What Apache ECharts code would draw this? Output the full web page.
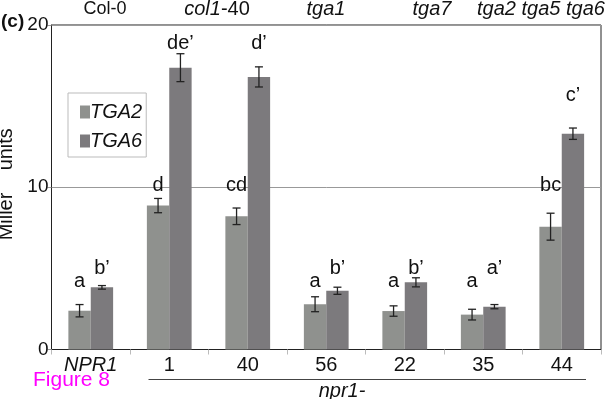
<!DOCTYPE html>
<html>
<head>
<meta charset="utf-8">
<script src="https://cdn.jsdelivr.net/npm/echarts@6/dist/echarts.min.js"></script>
<style>
  html, body { margin: 0; padding: 0; background: #fff; }
  #main { width: 605px; height: 399px; }
</style>
</head>
<body>
<div id="main"></div>
<script>
// categories along the x axis (NPR1 wild type, then npr1- alleles)
var categories = ['NPR1', '1', '40', '56', '22', '35', '44'];

// Miller units
var tga2 = [2.39, 8.87, 8.21, 2.79, 2.37, 2.15, 7.57];
var tga6 = [3.83, 17.37, 16.8, 3.62, 4.14, 2.64, 13.3];
var tga2Err = [0.38, 0.44, 0.51, 0.46, 0.32, 0.33, 0.83];
var tga6Err = [0.11, 0.86, 0.62, 0.22, 0.28, 0.13, 0.35];

// significance letters and the height (Miller units) where each sits
var tga2Letters = ['a', 'd', 'cd', 'a', 'a', 'a', 'bc'];
var tga6Letters = ['b’', 'de’', 'd’', 'b’', 'b’', 'a’', 'c’'];
var tga2LetterAt = [3.73, 9.65, 9.65, 3.73, 3.73, 3.73, 9.65];
var tga6LetterAt = [4.59, 18.46, 18.46, 4.59, 4.59, 4.59, 15.2];

var yTicks = [0, 10, 20];

var FONT = '"Liberation Sans", Arial, Helvetica, sans-serif';
var BAR_W = 0.285;

var chart = echarts.init(document.getElementById('main'), null, { renderer: 'canvas' });

// error bar + letter for one bar series, side = -1 (left bar) or 1 (right bar)
function errorRenderer(vals, errs, letters, letterAt, side) {
  return function (params, api) {
    var i = params.dataIndex;
    var catW = api.size([1, 0])[0];
    var bw = catW * BAR_W;
    var x = api.coord([i, vals[i]])[0] + side * bw / 2;
    var hi = api.coord([i, vals[i] + errs[i]])[1];
    var lo = api.coord([i, vals[i] - errs[i]])[1];
    var ly = api.coord([i, letterAt[i]])[1];
    var ls = { stroke: '#222', lineWidth: 1.3 };
    return {
      type: 'group',
      children: [
        { type: 'line', shape: { x1: x, y1: hi, x2: x, y2: lo }, style: ls },
        { type: 'line', shape: { x1: x - 4, y1: hi, x2: x + 4, y2: hi }, style: ls },
        { type: 'line', shape: { x1: x - 4, y1: lo, x2: x + 4, y2: lo }, style: ls },
        {
          type: 'text',
          x: x, y: ly - 7,
          style: {
            text: letters[i], fill: '#111', font: '20px ' + FONT,
            textAlign: 'center', textVerticalAlign: 'middle'
          }
        }
      ]
    };
  };
}

var option = {
  backgroundColor: '#fff',
  animation: false,
  textStyle: { fontFamily: FONT },
  grid: {
    left: 51.5, right: 4, top: 25, bottom: 49.5,
    show: true, borderColor: '#222', borderWidth: 1,
    outerBoundsMode: 'none'
  },
  legend: {
    data: ['TGA2', 'TGA6'],
    orient: 'vertical',
    left: 68, top: 93,
    padding: [9, 4, 6, 12],
    borderColor: '#bbb', borderWidth: 1,
    itemWidth: 10, itemHeight: 13, itemGap: 9,
    icon: 'rect',
    textStyle: { fontFamily: FONT, fontSize: 20, fontStyle: 'italic', color: '#111', lineHeight: 20, padding: [0, 0, 0, -5] }
  },
  xAxis: {
    type: 'category',
    data: categories,
    axisLine: { lineStyle: { color: '#222', width: 1 } },
    axisTick: { show: true, length: 5, lineStyle: { color: '#bbb' } },
    axisLabel: {
      interval: 0,
      margin: 6, fontSize: 20, color: '#111', fontFamily: FONT,
      formatter: function (v) { return v === 'NPR1' ? '{i|NPR1}' : v; },
      rich: { i: { fontStyle: 'italic', fontSize: 20, color: '#111', fontFamily: FONT } }
    }
  },
  yAxis: {
    type: 'value',
    min: yTicks[0], max: yTicks[yTicks.length - 1], interval: 10,
    name: 'Miller    units',
    nameLocation: 'middle', nameRotate: 90, nameGap: 32,
    nameTextStyle: { fontSize: 20, color: '#111', fontFamily: FONT, padding: [0, 0, 0, 6] },
    axisLine: { show: true, lineStyle: { color: '#222', width: 1 } },
    axisTick: { show: true, length: 4, lineStyle: { color: '#999' } },
    axisLabel: { margin: 3, fontSize: 19, color: '#111', fontFamily: FONT },
    splitLine: { show: true, lineStyle: { color: '#999', width: 1 } }
  },
  series: [
    {
      name: 'TGA2', type: 'bar', data: tga2,
      barWidth: (BAR_W * 100) + '%', barGap: '0%',
      itemStyle: { color: '#8f918e' }
    },
    {
      name: 'TGA6', type: 'bar', data: tga6,
      barWidth: (BAR_W * 100) + '%', barGap: '0%',
      itemStyle: { color: '#7c7a7d' }
    },
    {
      type: 'custom', z: 10,
      data: tga2.map(function (v, i) { return [i, v]; }),
      encode: { x: 0, y: 1 },
      renderItem: errorRenderer(tga2, tga2Err, tga2Letters, tga2LetterAt, -1)
    },
    {
      type: 'custom', z: 10,
      data: tga6.map(function (v, i) { return [i, v]; }),
      encode: { x: 0, y: 1 },
      renderItem: errorRenderer(tga6, tga6Err, tga6Letters, tga6LetterAt, 1)
    }
  ],
  graphic: [
    { type: 'text', left: 1, top: 12, style: { text: '(c)', font: 'bold 19px ' + FONT, fill: '#111' } },
    { type: 'text', x: 105, y: 9, style: { text: 'Col-0', font: '18px ' + FONT, fill: '#111', textAlign: 'center', textVerticalAlign: 'middle' } },
    {
      type: 'text', x: 217, y: 9,
      style: {
        text: '{i|col1}-40', font: '20px ' + FONT, fill: '#111', textAlign: 'center', textVerticalAlign: 'middle',
        rich: { i: { fontStyle: 'italic', fontSize: 20, fontFamily: FONT, fill: '#111' } }
      }
    },
    { type: 'text', x: 326, y: 9, style: { text: 'tga1', font: 'italic 20px ' + FONT, fill: '#111', textAlign: 'center', textVerticalAlign: 'middle' } },
    { type: 'text', x: 432, y: 9, style: { text: 'tga7', font: 'italic 20px ' + FONT, fill: '#111', textAlign: 'center', textVerticalAlign: 'middle' } },
    { type: 'text', x: 541, y: 9, style: { text: 'tga2 tga5 tga6', font: 'italic 20px ' + FONT, fill: '#111', textAlign: 'center', textVerticalAlign: 'middle' } },
    { type: 'line', shape: { x1: 148.5, y1: 379.5, x2: 586, y2: 379.5 }, style: { stroke: '#444', lineWidth: 1 } },
    { type: 'text', x: 342, y: 391, style: { text: 'npr1-', font: 'italic 20px ' + FONT, fill: '#111', textAlign: 'center', textVerticalAlign: 'middle' } },
    { type: 'text', x: 33, y: 380, style: { text: 'Figure 8', font: '21px ' + FONT, fill: '#ff00ff', textAlign: 'left', textVerticalAlign: 'middle' } }
  ]
};

chart.setOption(option);
</script>
</body>
</html>
